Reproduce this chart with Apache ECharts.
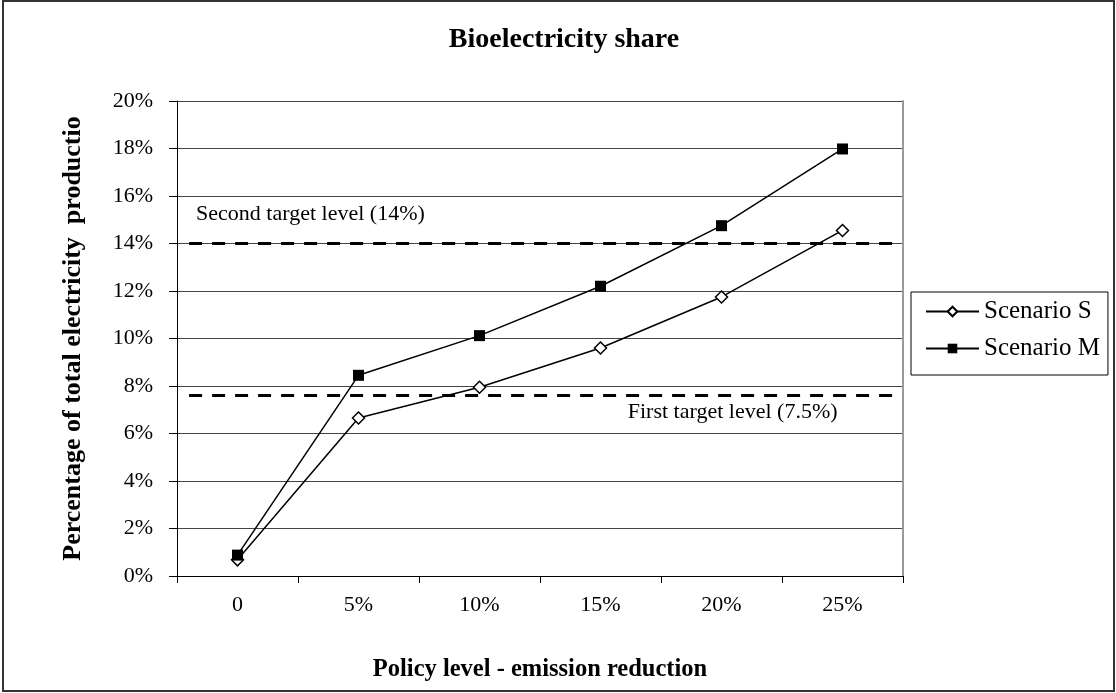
<!DOCTYPE html>
<html>
<head>
<meta charset="utf-8">
<script src="https://cdn.jsdelivr.net/npm/echarts@6/dist/echarts.min.js"></script>
<style>
html,body{margin:0;padding:0;background:#fff;}
#chart{width:1116px;height:693px;}
</style>
</head>
<body>
<div id="chart"></div>
<script>
var categories = ['0', '5%', '10%', '15%', '20%', '25%'];
var scenarioS = [0.68, 6.65, 7.95, 9.6, 11.75, 14.55];
var scenarioM = [0.88, 8.45, 10.12, 12.2, 14.75, 17.98];
var yTicks = [0, 2, 4, 6, 8, 10, 12, 14, 16, 18, 20];
var secondTarget = 14;
var firstTarget = 7.6;
var targetSpan = [0.1, 5.93];

var FONT = '"Liberation Serif", "Times New Roman", serif';

var chart = echarts.init(document.getElementById('chart'));
chart.setOption({
  backgroundColor: '#fff',
  animation: false,
  title: {
    text: 'Bioelectricity share',
    left: 559, top: 21, textAlign: 'center',
    textStyle: {fontFamily: FONT, fontWeight: 'bold', fontSize: 28, color: '#000'}
  },
  legend: {
    orient: 'vertical',
    left: 911, top: 292,
    padding: [7, 8, 14, 14],
    itemGap: 12,
    itemWidth: 53, itemHeight: 12,
    borderColor: '#000', borderWidth: 1,
    textStyle: {fontFamily: FONT, fontSize: 25, lineHeight: 24, color: '#000'},
    data: ['Scenario S', 'Scenario M']
  },
  grid: {left: 177, right: 213, top: 101, bottom: 117, containLabel: false, show: false},
  xAxis: [{
    type: 'category',
    data: categories,
    boundaryGap: true,
    axisLine: {lineStyle: {color: '#000', width: 1}},
    axisTick: {show: true, length: 7, inside: false, lineStyle: {color: '#000'}},
    axisLabel: {fontFamily: FONT, fontSize: 22, color: '#000', margin: 18},
    name: 'Policy level - emission reduction',
    nameLocation: 'middle', nameGap: 81,
    nameTextStyle: {fontFamily: FONT, fontWeight: 'bold', fontSize: 24.5, color: '#000'}
  }, {
    type: 'value', min: 0, max: 6, show: false
  }],
  yAxis: [{
    type: 'value',
    min: yTicks[0], max: yTicks[yTicks.length - 1], interval: 2,
    axisLine: {show: true, lineStyle: {color: '#000', width: 1}},
    axisTick: {show: true, length: 8, lineStyle: {color: '#000'}},
    axisLabel: {fontFamily: FONT, fontSize: 22, color: '#000', margin: 24, formatter: '{value}%'},
    splitLine: {show: true, lineStyle: {color: '#444', width: 1}},
    name: 'Percentage of total electricity  productio',
    nameLocation: 'middle', nameGap: 91, nameRotate: 90,
    nameTextStyle: {fontFamily: FONT, fontWeight: 'bold', fontSize: 26, color: '#000'}
  }, {
    type: 'value', position: 'right',
    min: yTicks[0], max: yTicks[yTicks.length - 1], interval: 2,
    axisLine: {show: true, lineStyle: {color: '#999', width: 2}},
    axisTick: {show: false}, axisLabel: {show: false}, splitLine: {show: false}
  }],
  series: [{
    name: 'Second target',
    type: 'line', xAxisIndex: 1, yAxisIndex: 0,
    symbol: 'circle', symbolSize: 1, showSymbol: true, silent: true,
    itemStyle: {color: 'rgba(0,0,0,0)'},
    lineStyle: {color: '#000', width: 3, type: [13, 10]},
    data: [
      {value: [targetSpan[0], secondTarget], label: {show: true, position: 'top', align: 'left', offset: [7, -13],
        formatter: 'Second target level (14%)', fontFamily: FONT, fontSize: 22, color: '#000'}},
      {value: [targetSpan[1], secondTarget], label: {show: false}}
    ],
    z: 3
  }, {
    name: 'First target',
    type: 'line', xAxisIndex: 1, yAxisIndex: 0,
    symbol: 'circle', symbolSize: 1, showSymbol: true, silent: true,
    itemStyle: {color: 'rgba(0,0,0,0)'},
    lineStyle: {color: '#000', width: 3, type: [13, 10]},
    data: [
      {value: [targetSpan[0], firstTarget], label: {show: false}},
      {value: [targetSpan[1], firstTarget], label: {show: true, position: 'bottom', align: 'right', offset: [-57, 0],
        formatter: 'First target level (7.5%)', fontFamily: FONT, fontSize: 22, color: '#000'}}
    ],
    z: 3
  }, {
    name: 'Scenario S',
    type: 'line',
    data: scenarioS,
    symbol: 'diamond', symbolSize: 12,
    itemStyle: {color: '#fff', borderColor: '#000', borderWidth: 1.5},
    lineStyle: {color: '#000', width: 1.5},
    z: 5
  }, {
    name: 'Scenario M',
    type: 'line',
    data: scenarioM,
    symbol: 'rect', symbolSize: 11,
    itemStyle: {color: '#000', borderColor: '#000', borderWidth: 0},
    lineStyle: {color: '#000', width: 1.5},
    z: 6
  }],
  graphic: [{
    type: 'rect', silent: true,
    shape: {x: 3, y: 1, width: 1111, height: 690},
    style: {fill: 'none', stroke: '#333', lineWidth: 2}
  }]
});
</script>
</body>
</html>
